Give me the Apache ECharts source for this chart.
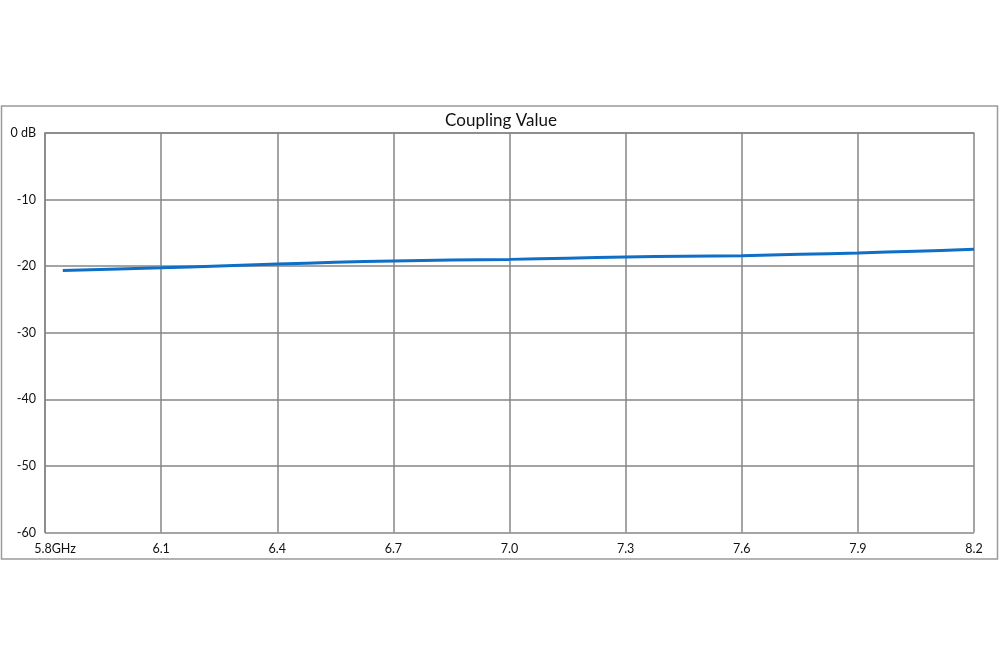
<!DOCTYPE html>
<html>
<head>
<meta charset="utf-8">
<script src="https://cdn.jsdelivr.net/npm/echarts@6/dist/echarts.min.js"></script>
<style>
html,body{margin:0;padding:0;background:#fff;}
#chart{width:1000px;height:667px;}
</style>
</head>
<body>
<div id="chart"></div>
<script>
const title = 'Coupling Value';
const freqStart = 5.8;
const freqEnd = 8.2;
const freqStep = 0.3;
const freqGHz = [5.846, 6.1, 6.25, 6.4, 6.55, 6.7, 6.85, 7.0, 7.15, 7.3, 7.45, 7.6, 7.75, 7.9, 8.05, 8.2];
const couplingDb = [-20.65, -20.25, -19.97, -19.68, -19.42, -19.22, -19.08, -18.98, -18.8, -18.62, -18.52, -18.42, -18.22, -18.02, -17.75, -17.47];
const yTicks = { min: -60, max: 0, interval: 10 };

const chart = echarts.init(document.getElementById('chart'), null, { renderer: 'canvas' });
const seriesData = freqGHz.map((f, i) => [f - freqStart, couplingDb[i]]);
const gridColor = '#868686';
const font = 'Lato, "Open Sans", sans-serif';

chart.setOption({
  animation: false,
  backgroundColor: '#fff',
  title: {
    text: title,
    left: 496, top: 107, textAlign: 'center',
    textStyle: { fontFamily: font, fontSize: 17, fontWeight: 'normal', color: '#111' }
  },
  graphic: [{
    type: 'rect',
    shape: { x: 1.5, y: 106, width: 996, height: 453 },
    style: { fill: 'none', stroke: '#9a9a9a', lineWidth: 1.5 },
    silent: true, z: -1
  }],
  grid: { left: 45, right: 26, top: 133, bottom: 134.5 },
  xAxis: {
    type: 'value',
    min: 0, max: +(freqEnd - freqStart).toFixed(1), interval: freqStep,
    axisLine: { show: true, lineStyle: { color: gridColor, width: 1.5 } },
    axisTick: { show: false },
    splitLine: { show: true, lineStyle: { color: gridColor, width: 1.5 } },
    axisLabel: {
      margin: 10,
      fontFamily: font, fontSize: 12.5, color: '#111',
      formatter: function (v) {
        const f = (v + freqStart).toFixed(1);
        return Math.abs(v) < 1e-9 ? '{a|' + f + 'GHz}' : f;
      },
      rich: { a: { fontFamily: font, fontSize: 12.5, color: '#111', padding: [0, 0, 0, 20] } }
    }
  },
  yAxis: {
    type: 'value',
    min: yTicks.min, max: yTicks.max, interval: yTicks.interval,
    axisLine: { show: true, lineStyle: { color: gridColor, width: 1.5 } },
    axisTick: { show: false },
    splitLine: { show: true, lineStyle: { color: gridColor, width: 1.5 } },
    axisLabel: {
      margin: 9,
      fontFamily: font, fontSize: 12.5, color: '#111',
      formatter: function (v) { return v === 0 ? '0 dB' : String(v); }
    }
  },
  series: [{
    type: 'line',
    data: seriesData,
    showSymbol: false,
    smooth: 0.3,
    lineStyle: { color: '#0f6fc6', width: 3 },
    z: 5
  }]
});
</script>
</body>
</html>
